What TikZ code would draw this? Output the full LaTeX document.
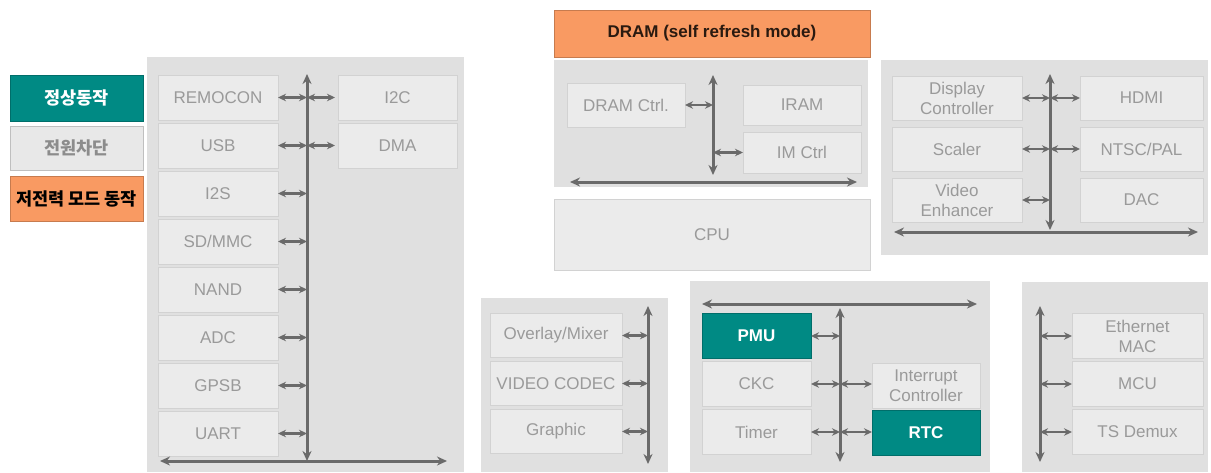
\documentclass[tikz,border=0pt]{standalone}
\usepackage{fontspec}
\setmainfont{Liberation Sans}
\newfontfamily\kr{Noto Sans CJK KR}
\usepackage{xcolor}
\usetikzlibrary{positioning,arrows.meta}

\definecolor{panelgray}{HTML}{E0E0E0}
\definecolor{boxfill}{HTML}{EBEBEB}
\definecolor{boxline}{HTML}{D2D2D2}
\definecolor{boxtext}{HTML}{9A9A9A}
\definecolor{busgray}{HTML}{6A6A6A}
\definecolor{onteal}{HTML}{008A84}
\definecolor{loworange}{HTML}{F99A62}
\definecolor{darktext}{HTML}{2A1A10}

\begin{document}
\begin{tikzpicture}[x=1pt, y=-1pt, font=\fontsize{17}{20}\selectfont,
  panel/.style={fill=panelgray},
  blk/.style={draw=boxline, line width=0.8pt, fill=boxfill, text=boxtext, inner sep=0pt, outer sep=0pt, align=center, minimum height=45pt},
  hot/.style={blk, draw=onteal!80!black, fill=onteal, text=white, font=\fontsize{17}{20}\selectfont\bfseries},
  bus/.style={draw=busgray, line width=3pt, <->, >={Stealth[length=10pt,width=9pt]}},
  link/.style={draw=busgray, line width=2.6pt, <->, >={Stealth[length=8pt,width=7.5pt]}}]

\useasboundingbox (0,0) rectangle (1211,472);

% legend
\node[hot, minimum width=133pt, minimum height=46pt, font=\kr\fontsize{17.5}{20}\selectfont\bfseries] (normal) at (76.5,98) {정상동작};
\node[blk, minimum width=133pt, minimum height=44pt, draw=black!25, fill=black!9, text=black!45, font=\kr\fontsize{17.5}{20}\selectfont\bfseries] (off) at (76.5,148) {전원차단};
\node[blk, minimum width=133pt, minimum height=45pt, draw=loworange!80!black, fill=loworange, text=black, font=\kr\fontsize{17.5}{20}\selectfont\bfseries] (lowpow) at (76.5,198.5) {저전력 모드 동작};

% background panels
\fill[panel] (147,57) rectangle (464,472);
\fill[panel] (554,60) rectangle (868,187);
\fill[panel] (881,60) rectangle (1208,255);
\fill[panel] (481,298) rectangle (668,472);
\fill[panel] (690,281) rectangle (990,472);
\fill[panel] (1022,282) rectangle (1208,472);

% peripheral block
\node[blk, minimum width=120pt] (remocon) at (218,97.5) {REMOCON};
\node[blk, minimum width=120pt, below=3pt of remocon] (usb) {USB};
\node[blk, minimum width=120pt, below=3pt of usb] (i2s) {I2S};
\node[blk, minimum width=120pt, below=3pt of i2s] (sdmmc) {SD/MMC};
\node[blk, minimum width=120pt, below=3pt of sdmmc] (nand) {NAND};
\node[blk, minimum width=120pt, below=3pt of nand] (adc) {ADC};
\node[blk, minimum width=120pt, below=3pt of adc] (gpsb) {GPSB};
\node[blk, minimum width=120pt, below=3pt of gpsb] (uart) {UART};
\node[blk, minimum width=119pt] (i2c) at (397.5,97.5) {I2C};
\node[blk, minimum width=119pt, below=3pt of i2c] (dma) {DMA};

\coordinate (lbusT) at (307,74);
\coordinate (lbusB) at (307,461);
\coordinate (lhL) at (160,461);
\coordinate (lhR) at (447,461);
\draw[bus] (lbusT) -- (lbusB);
\draw[bus] (lhL) -- (lhR);
\draw[link] (remocon.east) -- (remocon.east -| lbusT);
\draw[link] (usb.east) -- (usb.east -| lbusT);
\draw[link] (i2s.east) -- (i2s.east -| lbusT);
\draw[link] (sdmmc.east) -- (sdmmc.east -| lbusT);
\draw[link] (nand.east) -- (nand.east -| lbusT);
\draw[link] (adc.east) -- (adc.east -| lbusT);
\draw[link] (gpsb.east) -- (gpsb.east -| lbusT);
\draw[link] (uart.east) -- (uart.east -| lbusT);
\draw[link] (i2c.west -| lbusT) -- ([xshift=-3pt]i2c.west);
\draw[link] (dma.west -| lbusT) -- ([xshift=-3pt]dma.west);

% DRAM / CPU
\node[blk, minimum width=316pt, minimum height=47pt, draw=loworange!80!black, fill=loworange, text=darktext, font=\fontsize{17}{20}\selectfont\bfseries] (dram) at (712,33.5) {DRAM (self refresh mode)};
\node[blk, minimum width=118pt, minimum height=44pt] (dramctrl) at (626,105) {DRAM Ctrl.};
\node[blk, minimum width=118pt, minimum height=40pt] (iram) at (802,105) {IRAM};
\node[blk, minimum width=118pt, minimum height=41pt, below=7pt of iram] (imctrl) {IM Ctrl};
\node[blk, minimum width=316pt, minimum height=71pt] (cpu) at (712,234.5) {CPU};

\coordinate (dbusT) at (713,75);
\coordinate (dbusB) at (713,175);
\coordinate (dhL) at (570,182);
\coordinate (dhR) at (857,182);
\draw[bus] (dbusT) -- (dbusB);
\draw[bus] (dhL) -- (dhR);
\draw[link] (dramctrl.east) -- (dramctrl.east -| dbusT);
\draw[link] (imctrl.west -| dbusT) -- (imctrl.west);

% display block
\node[blk, minimum width=130pt, minimum height=44pt] (dispctrl) at (957,98) {Display\\Controller};
\node[blk, minimum width=130pt, minimum height=44pt, below=7pt of dispctrl] (scaler) {Scaler};
\node[blk, minimum width=130pt, minimum height=44pt, below=7pt of scaler] (venh) {Video\\Enhancer};
\node[blk, minimum width=123pt, minimum height=44pt] (hdmi) at (1141.5,98) {HDMI};
\node[blk, minimum width=123pt, minimum height=44pt, below=7pt of hdmi] (ntsc) {NTSC/PAL};
\node[blk, minimum width=123pt, minimum height=44pt, below=7pt of ntsc] (dac) {DAC};

\coordinate (vbusT) at (1050,74);
\coordinate (vbusB) at (1050,230);
\coordinate (vhL) at (894,232);
\coordinate (vhR) at (1198,232);
\draw[bus] (vbusT) -- (vbusB);
\draw[bus] (vhL) -- (vhR);
\draw[link] (dispctrl.east) -- (dispctrl.east -| vbusT);
\draw[link] (scaler.east) -- (scaler.east -| vbusT);
\draw[link] (venh.east) -- (venh.east -| vbusT);
\draw[link] (hdmi.west -| vbusT) -- (hdmi.west);
\draw[link] (ntsc.west -| vbusT) -- (ntsc.west);

% video block
\node[blk, minimum width=132pt, minimum height=44pt] (overlay) at (556,335.5) {Overlay/Mixer};
\node[blk, minimum width=132pt, minimum height=44pt, below=4pt of overlay] (codec) {VIDEO CODEC};
\node[blk, minimum width=132pt, minimum height=44pt, below=4pt of codec] (graphic) {Graphic};

\coordinate (gbusT) at (648,306);
\coordinate (gbusB) at (648,464);
\draw[bus] (gbusT) -- (gbusB);
\draw[link] (overlay.east) -- (overlay.east -| gbusT);
\draw[link] (codec.east) -- (codec.east -| gbusT);
\draw[link] (graphic.east) -- (graphic.east -| gbusT);

% power block
\node[hot, minimum width=109pt] (pmu) at (756.5,336) {PMU};
\node[blk, minimum width=109pt, below=3pt of pmu] (ckc) {CKC};
\node[blk, minimum width=109pt, below=3pt of ckc] (timer) {Timer};
\node[blk, minimum width=108pt] (intc) at (926,385.5) {Interrupt\\Controller};
\node[hot, minimum width=108pt, below=2pt of intc] (rtc) {RTC};

\coordinate (pbusT) at (840,308);
\coordinate (pbusB) at (840,462);
\coordinate (phL) at (702,304);
\coordinate (phR) at (977,304);
\draw[bus] (phL) -- (phR);
\draw[bus] (pbusT) -- (pbusB);
\draw[link] (pmu.east) -- (pmu.east -| pbusT);
\draw[link] (ckc.east) -- (ckc.east -| pbusT);
\draw[link] (timer.east) -- (timer.east -| pbusT);
\draw[link] (ckc.east -| pbusT) -- (ckc.east -| intc.west);
\draw[link] (timer.east -| pbusT) -- (timer.east -| rtc.west);

% network block
\node[blk, minimum width=131pt] (ether) at (1137.5,336) {Ethernet\\MAC};
\node[blk, minimum width=131pt, below=3pt of ether] (mcu) {MCU};
\node[blk, minimum width=131pt, below=3pt of mcu] (tsdemux) {TS Demux};

\coordinate (ebusT) at (1040,306);
\coordinate (ebusB) at (1040,462);
\draw[bus] (ebusT) -- (ebusB);
\draw[link] (ether.west -| ebusT) -- (ether.west);
\draw[link] (mcu.west -| ebusT) -- (mcu.west);
\draw[link] (tsdemux.west -| ebusT) -- (tsdemux.west);
\end{tikzpicture}
\end{document}
